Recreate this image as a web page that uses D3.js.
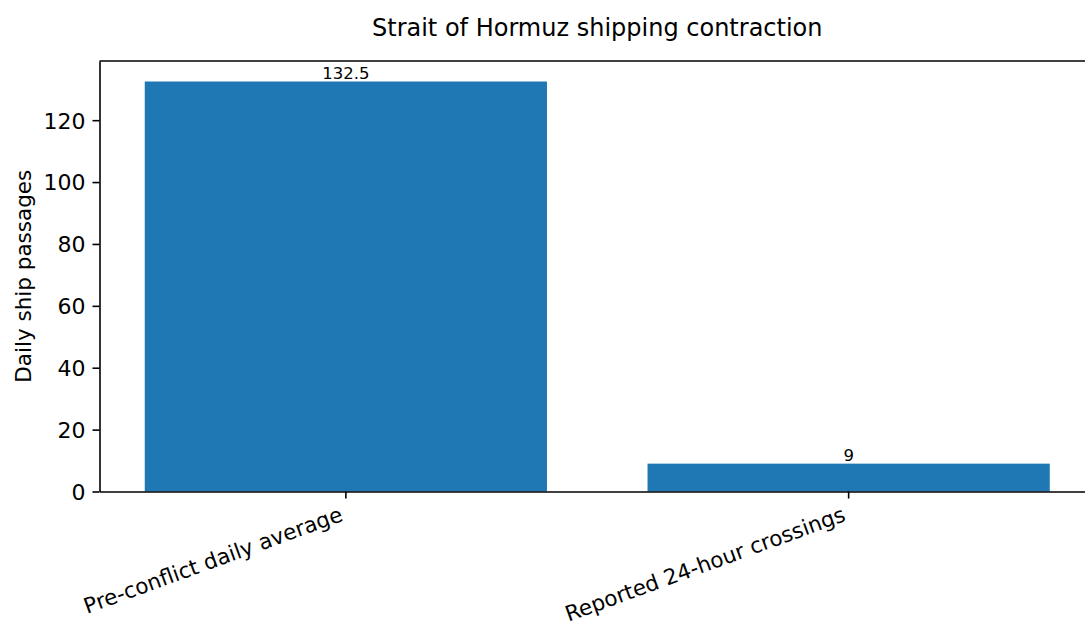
<!DOCTYPE html>
<html>
<head>
<meta charset="utf-8">
<script src="https://cdn.jsdelivr.net/npm/d3@7"></script>
<style>
  body { margin: 0; background: white; }
  svg { display: block; font-family: 'DejaVu Sans', sans-serif; }
</style>
</head>
<body>
<svg id="chart" width="1085" height="623"></svg>
<script>
// data
const categories = ['Pre-conflict daily average', 'Reported 24-hour crossings']
const passages = [132.5, 9]
const barLabels = ['132.5', '9']
const yTicks = [0, 20, 40, 60, 80, 100, 120]

const width = 1085
const height = 623
const margin = { top: 61, right: -10, bottom: 131.5, left: 99.5 }

const svg = d3.select('#chart')

const x = d3.scaleBand()
  .domain(categories)
  .range([margin.left, width - margin.right])
  .paddingInner(0.2)
  .paddingOuter(0.09)

const y = d3.scaleLinear()
  .domain([0, d3.max(passages) * 1.05])
  .range([height - margin.bottom, margin.top])

// bars
svg.append('g')
  .selectAll('rect')
  .data(passages)
  .join('rect')
  .attr('x', (d, i) => x(categories[i]))
  .attr('y', d => y(d))
  .attr('width', x.bandwidth())
  .attr('height', d => y(0) - y(d))
  .attr('fill', '#1f77b4')

// value labels
svg.append('g')
  .selectAll('text')
  .data(passages)
  .join('text')
  .attr('x', (d, i) => x(categories[i]) + x.bandwidth() / 2)
  .attr('y', d => y(d) - 3)
  .attr('text-anchor', 'middle')
  .attr('font-size', 16.5)
  .attr('fill', '#000')
  .text((d, i) => barLabels[i])

// y axis
const yAxis = svg.append('g')
  .attr('transform', `translate(${margin.left},0)`)
  .call(d3.axisLeft(y).tickValues(yTicks).tickSize(7).tickPadding(7).tickSizeOuter(0))
yAxis.select('.domain').attr('stroke', '#000').attr('stroke-width', 1.6)
yAxis.selectAll('.tick line').attr('stroke', '#000').attr('stroke-width', 1.6)
yAxis.selectAll('.tick text')
  .attr('font-size', 22)
  .attr('font-family', 'DejaVu Sans')
  .attr('fill', '#000')
  .attr('dy', '0.36em')

// x axis
const xAxis = svg.append('g')
  .attr('transform', `translate(0,${y(0)})`)
  .call(d3.axisBottom(x).tickSize(7).tickSizeOuter(0))
xAxis.select('.domain').attr('stroke', '#000').attr('stroke-width', 1.6)
xAxis.selectAll('.tick line').attr('stroke', '#000').attr('stroke-width', 1.6)
// rotated labels, right edge of the rotated box at the tick
const fs = 21.5
const rot = 20 * Math.PI / 180
xAxis.selectAll('.tick text')
  .attr('font-size', fs)
  .attr('font-family', 'DejaVu Sans')
  .attr('fill', '#000')
  .attr('text-anchor', 'end')
  .attr('dy', null)
  .attr('y', null)
  .attr('transform', `translate(${-0.236 * fs * Math.sin(rot)},${13.5 + 0.76 * fs * Math.cos(rot)}) rotate(-20)`)

// top spine (right spine falls outside the picture)
svg.append('line')
  .attr('x1', margin.left)
  .attr('x2', width - margin.right)
  .attr('y1', margin.top)
  .attr('y2', margin.top)
  .attr('stroke', '#000')
  .attr('stroke-width', 1.6)

// title
svg.append('text')
  .attr('x', (margin.left + width - margin.right) / 2)
  .attr('y', 35.7)
  .attr('text-anchor', 'middle')
  .attr('font-size', 24)
  .attr('fill', '#000')
  .text('Strait of Hormuz shipping contraction')

// y label
svg.append('text')
  .attr('transform', `translate(31,${(margin.top + y(0)) / 2}) rotate(-90)`)
  .attr('text-anchor', 'middle')
  .attr('font-size', 21.5)
  .attr('fill', '#000')
  .text('Daily ship passages')
</script>
</body>
</html>
